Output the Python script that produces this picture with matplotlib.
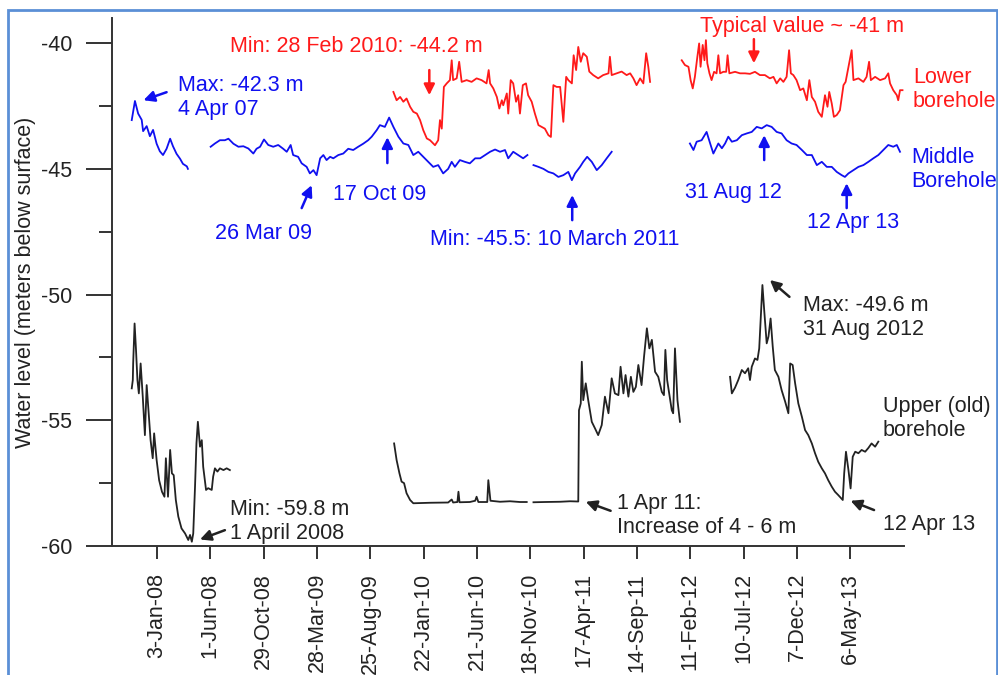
import matplotlib
matplotlib.use("Agg")
import matplotlib.pyplot as plt
import pandas as pd
import numpy as np
from matplotlib.patches import Rectangle

plt.rcParams['font.family'] = ['Liberation Sans', 'DejaVu Sans']
plt.rcParams['axes.unicode_minus'] = False

# ---------------- data: x = days since 2007-10-01, y = water level (m) ----------------
START = pd.Timestamp("2007-10-01")

# Middle borehole (blue)
mid1_days = [23, 32, 41, 51, 55, 65, 74, 83, 93, 102, 111, 121, 131, 139, 149, 159, 167, 178, 181]
mid1_lvl = [-43.06, -42.3, -42.8, -43.05, -43.5, -43.3, -43.7, -43.45, -44.0, -44.3, -44.45, -44.2,
            -43.8, -44.1, -44.4, -44.6, -44.8, -44.9, -45.0]

mid2_days = [245, 257, 271, 285, 295, 309, 323, 337, 351, 365, 374, 384, 395, 407, 421, 435, 449, 459,
             470, 477, 491, 501, 515, 524, 534, 543, 553, 562, 571, 581, 590, 604, 618, 632, 646, 660,
             674, 688, 698, 712, 721, 735, 747, 759, 773, 787, 801, 815, 829, 843, 857, 871, 885, 899,
             913, 923, 932, 946, 960, 974, 989, 1003, 1017, 1031, 1045, 1059, 1073, 1082, 1096, 1110,
             1124, 1136]
mid2_lvl = [-44.12, -43.99, -43.86, -43.86, -43.8, -44.0, -44.12, -44.1, -44.19, -44.39, -44.2, -44.12,
            -43.83, -44.05, -44.12, -44.05, -44.2, -44.32, -44.05, -44.45, -44.52, -44.78, -44.92,
            -45.18, -45.05, -45.25, -44.58, -44.45, -44.65, -44.52, -44.58, -44.45, -44.39, -44.2,
            -44.25, -44.12, -44.0, -43.86, -43.72, -43.46, -43.26, -43.33, -42.96, -43.33, -43.72,
            -43.99, -44.05, -44.45, -44.32, -44.52, -44.72, -44.92, -44.85, -45.18, -45.0, -44.72,
            -44.92, -44.65, -44.72, -44.78, -44.58, -44.58, -44.45, -44.32, -44.23, -44.32, -44.25,
            -44.58, -44.32, -44.45, -44.58, -44.45]

mid3_days = [1153, 1167, 1181, 1195, 1209, 1223, 1237, 1251, 1261, 1270, 1284, 1293, 1304, 1317, 1331,
             1345, 1359, 1373]
mid3_lvl = [-44.85, -44.92, -45.0, -45.12, -45.18, -45.32, -45.25, -45.12, -45.45, -45.18, -44.92,
            -44.72, -44.52, -44.72, -45.05, -44.85, -44.58, -44.32]

mid4_days = [1593, 1603, 1612, 1626, 1640, 1650, 1659, 1673, 1683, 1692, 1701, 1711, 1725, 1739, 1753,
             1767, 1781, 1795, 1809, 1823, 1837, 1851, 1865, 1879, 1893, 1908, 1922, 1936, 1950, 1964,
             1978, 1992, 2006, 2020, 2029, 2039, 2053, 2067, 2081, 2095, 2109, 2123, 2137, 2151, 2165,
             2175, 2184]
mid4_lvl = [-43.99, -44.25, -43.92, -43.86, -43.53, -43.99, -44.39, -43.99, -44.18, -43.99, -43.72,
            -43.92, -43.86, -43.66, -43.59, -43.53, -43.33, -43.39, -43.26, -43.33, -43.53, -43.59,
            -43.86, -43.99, -44.05, -44.25, -44.45, -44.45, -44.85, -44.72, -44.92, -44.92, -45.12,
            -45.25, -45.32, -45.18, -45.05, -44.92, -44.85, -44.72, -44.58, -44.45, -44.25, -44.05,
            -44.12, -44.05, -44.32]

# Lower borehole (red)
low1_days = [759, 768, 778, 787, 796, 806, 815, 825, 834, 843, 853, 862, 876, 885, 890, 895, 901, 909,
             918, 923, 927, 937, 944, 951, 965, 979, 993, 1007, 1021, 1027, 1031, 1040, 1050, 1057,
             1064, 1068, 1078, 1082, 1089, 1096, 1104, 1110, 1115, 1123, 1132, 1138, 1148, 1157, 1167,
             1176, 1185, 1195, 1202, 1209, 1218, 1228, 1237, 1245, 1251, 1261, 1266, 1273, 1279, 1286,
             1293, 1303, 1310, 1321, 1335, 1349, 1364, 1368, 1373, 1387, 1401, 1415, 1425, 1434, 1443,
             1453, 1462, 1470, 1476, 1481]
low1_lvl = [-41.94, -42.27, -42.14, -42.33, -42.2, -42.53, -42.73, -42.8, -43.06, -43.46, -43.79,
            -43.86, -44.06, -43.86, -43.06, -43.4, -41.74, -41.6, -41.47, -40.68, -41.47, -41.4,
            -40.74, -41.54, -41.47, -41.54, -41.4, -41.47, -41.6, -41.07, -41.6, -41.8, -42.14, -42.6,
            -42.27, -42.47, -42.0, -42.8, -41.47, -41.6, -42.33, -42.07, -42.8, -41.67, -41.6, -42.07,
            -42.33, -42.8, -43.26, -43.33, -43.4, -43.66, -43.73, -41.67, -41.74, -41.74, -43.13,
            -41.34, -41.47, -41.6, -40.48, -41.07, -40.15, -40.74, -40.4, -40.54, -41.13, -41.27,
            -41.4, -41.27, -41.2, -40.54, -41.27, -41.2, -41.13, -41.27, -41.2, -41.4, -41.67, -41.4,
            -41.6, -40.4, -40.94, -41.54]

low2_days = [1570, 1579, 1589, 1595, 1601, 1607, 1614, 1619, 1623, 1629, 1634, 1638, 1642, 1648, 1654,
             1661, 1668, 1673, 1678, 1687, 1695, 1699, 1704, 1720, 1734, 1748, 1762, 1776, 1790, 1804,
             1818, 1828, 1837, 1847, 1856, 1865, 1872, 1877, 1884, 1893, 1903, 1912, 1922, 1929, 1936,
             1945, 1954, 1964, 1973, 1980, 1985, 1992, 1998, 2006, 2015, 2025, 2031, 2048, 2053, 2067,
             2081, 2090, 2097, 2102, 2114, 2128, 2142, 2151, 2156, 2165, 2175, 2179, 2184, 2191]
low2_lvl = [-40.68, -40.87, -40.94, -41.47, -41.8, -41.34, -40.54, -40.01, -40.94, -40.07, -40.68,
            -39.88, -40.8, -41.2, -41.47, -41.14, -41.2, -40.48, -41.2, -41.14, -41.14, -40.48, -41.2,
            -41.14, -41.2, -41.2, -41.22, -41.14, -41.27, -41.27, -41.4, -41.34, -41.6, -41.4, -41.54,
            -41.34, -40.28, -41.2, -41.27, -41.47, -41.87, -41.8, -42.27, -41.47, -42.14, -42.33,
            -42.73, -42.93, -42.07, -42.53, -41.94, -42.4, -42.93, -42.86, -42.67, -41.67, -41.54,
            -40.28, -41.47, -41.4, -41.54, -41.34, -40.74, -41.47, -41.34, -41.47, -41.4, -41.2, -41.6,
            -41.87, -42.07, -42.27, -41.87, -41.87]

# Upper (old) borehole (black)
up1_days = [23, 26, 27, 31, 35, 39, 43, 48, 54, 60, 65, 70, 76, 82, 86, 93, 100, 108, 115, 119, 125,
            131, 136, 141, 147, 154, 163, 173, 182, 187, 192, 196, 201, 205, 209, 215, 220, 224, 232,
            238, 248, 252, 257, 264, 271, 281, 290, 299]
up1_lvl = [-53.73, -53.4, -52.74, -51.15, -52.2, -53.4, -53.93, -52.74, -54.06, -55.59, -53.6, -54.59,
           -55.79, -56.51, -55.52, -56.58, -57.38, -57.84, -58.04, -56.51, -58.04, -56.18, -57.11,
           -57.18, -58.17, -58.83, -59.3, -59.5, -59.76, -59.56, -59.83, -59.5, -57.64, -55.92,
           -55.06, -56.05, -55.79, -56.85, -57.77, -57.7, -57.77, -57.24, -56.91, -57.04, -56.91,
           -56.98, -56.91, -56.98]

up2_days = [761, 768, 776, 782, 789, 796, 806, 815, 862, 913, 923, 927, 939, 942, 945, 974, 989, 993,
            998, 1023, 1026, 1032, 1059, 1087, 1115, 1134]
up2_lvl = [-55.92, -56.58, -57.11, -57.44, -57.5, -57.9, -58.17, -58.3, -58.28, -58.27, -58.15, -58.27,
           -58.25, -57.84, -58.26, -58.25, -58.2, -58.04, -58.25, -58.25, -57.38, -58.2, -58.24,
           -58.22, -58.25, -58.25]

up3_days = [1153, 1185, 1228, 1256, 1279, 1281, 1286, 1289, 1293, 1300, 1307, 1317, 1326, 1335, 1345,
            1354, 1364, 1373, 1382, 1392, 1398, 1406, 1412, 1420, 1427, 1434, 1441, 1448, 1457, 1464,
            1472, 1479, 1486, 1495, 1504, 1514, 1520, 1524, 1529, 1542, 1546, 1551, 1558, 1565]
up3_lvl = [-58.26, -58.25, -58.24, -58.22, -58.23, -54.6, -54.33, -52.67, -54.2, -53.53, -54.2, -55.06,
           -55.32, -55.59, -55.19, -54.06, -54.72, -53.33, -53.93, -54.0, -52.87, -53.93, -53.2,
           -54.06, -53.27, -53.87, -53.67, -52.8, -53.6, -52.47, -51.34, -52.14, -51.8, -53.07,
           -53.27, -53.87, -54.0, -52.2, -53.4, -54.6, -54.72, -52.14, -54.2, -55.06]

up4_days = [1706, 1711, 1720, 1729, 1739, 1748, 1757, 1762, 1767, 1776, 1783, 1788, 1792, 1797, 1802,
            1809, 1814, 1820, 1826, 1832, 1842, 1851, 1861, 1870, 1875, 1882, 1889, 1898, 1908, 1917,
            1926, 1936, 1945, 1954, 1964, 1973, 1982, 1992, 2001, 2010, 2023, 2027, 2032, 2039, 2045,
            2051, 2058, 2067, 2076, 2086, 2095, 2104, 2114, 2123]
up4_lvl = [-53.27, -53.93, -53.7, -53.4, -53.0, -53.13, -52.93, -53.4, -52.87, -52.54, -52.6, -52.14,
           -51.01, -49.62, -50.62, -51.94, -51.67, -50.95, -52.07, -53.0, -53.27, -53.8, -54.26,
           -54.72, -52.74, -52.8, -53.53, -54.33, -54.86, -55.39, -55.59, -55.92, -56.31, -56.65,
           -56.91, -57.11, -57.38, -57.64, -57.84, -57.97, -58.17, -57.11, -56.25, -56.98, -57.71,
           -56.45, -56.25, -56.31, -56.18, -56.25, -56.1, -55.92, -56.05, -55.85]

tick_dates = ["2008-01-03", "2008-06-01", "2008-10-29", "2009-03-28", "2009-08-25", "2010-01-22",
              "2010-06-21", "2010-11-18", "2011-04-17", "2011-09-14", "2012-02-11", "2012-07-10",
              "2012-12-07", "2013-05-06"]
tick_labels = ["3-Jan-08", "1-Jun-08", "29-Oct-08", "28-Mar-09", "25-Aug-09", "22-Jan-10",
               "21-Jun-10", "18-Nov-10", "17-Apr-11", "14-Sep-11", "11-Feb-12", "10-Jul-12",
               "7-Dec-12", "6-May-13"]

BLUE = "#1010f0"
RED = "#ff1a1a"
BLACK = "#222222"
AX = "#333333"


def to_dates(days):
    return START + pd.to_timedelta(np.asarray(days, dtype=float), unit="D")


def D(days):
    return START + pd.Timedelta(days=days)


fig = plt.figure(figsize=(9.98, 6.75), dpi=100)
ax = fig.add_axes([0.1122, 0.1911, 0.7936, 0.7822])

for d, v in [(mid1_days, mid1_lvl), (mid2_days, mid2_lvl), (mid3_days, mid3_lvl), (mid4_days, mid4_lvl)]:
    ax.plot(to_dates(d), v, color=BLUE, lw=1.3)
for d, v in [(low1_days, low1_lvl), (low2_days, low2_lvl)]:
    ax.plot(to_dates(d), v, color=RED, lw=1.3)
for d, v in [(up1_days, up1_lvl), (up2_days, up2_lvl), (up3_days, up3_lvl), (up4_days, up4_lvl)]:
    ax.plot(to_dates(d), v, color=BLACK, lw=1.3)

ax.set_xlim(D(-32.6), D(2195.2))
ax.set_ylim(-60, -39.0)

ax.spines['top'].set_visible(False)
ax.spines['right'].set_visible(False)
for s in ['left', 'bottom']:
    ax.spines[s].set_color(AX)
    ax.spines[s].set_linewidth(1.4)

FS = 15.5

ax.set_yticks([-60, -55, -50, -45, -40])
ax.set_yticks([-57.5, -52.5, -47.5, -42.5], minor=True)
ax.tick_params(axis='y', which='major', length=18.7, width=1.4, color=AX, pad=10,
               labelsize=FS, labelcolor=BLACK)
ax.tick_params(axis='y', which='minor', length=9.4, width=1.4, color=AX)

ax.set_xticks(pd.to_datetime(tick_dates))
ax.set_xticklabels(tick_labels, rotation=90)
ax.tick_params(axis='x', which='major', length=9.4, width=1.4, color=AX, pad=10,
               labelsize=FS, labelcolor=BLACK)
ax.tick_params(axis='x', which='minor', length=0)

ax.set_ylabel("Water level (meters below surface)", fontsize=FS, color=BLACK, labelpad=3.5)

arrow_kw = dict(arrowstyle="-|>", lw=1.8, mutation_scale=16, shrinkA=0, shrinkB=0)


def label(xd, yv, text, color):
    # yv is the baseline of the last line of text
    ax.text(D(xd), yv, text, color=color, fontsize=FS, va='baseline', linespacing=1.2,
            clip_on=False)


def arrow(x0, y0, x1, y1, color):
    ax.annotate("", xy=(D(x1), y1), xytext=(D(x0), y0),
                arrowprops=dict(color=color, **arrow_kw))


# blue annotations
label(154, -42.86, "Max: -42.3 m\n4 Apr 07", BLUE)
arrow(121, -41.95, 56, -42.27, BLUE)
label(257, -47.77, "26 Mar 09", BLUE)
arrow(501, -46.56, 529, -45.65, BLUE)
label(589, -46.25, "17 Oct 09", BLUE)
arrow(742, -44.77, 742, -43.74, BLUE)
label(862, -48.03, "Min: -45.5: 10 March 2011", BLUE)
arrow(1262, -47.04, 1262, -46.04, BLUE)
label(1579, -46.15, "31 Aug 12", BLUE)
arrow(1802, -44.65, 1802, -43.66, BLUE)
label(1921, -47.36, "12 Apr 13", BLUE)
arrow(2034, -46.56, 2034, -45.57, BLUE)
label(2217, -45.73, "Middle\nBorehole", BLUE)

# red annotations
label(299, -40.35, "Min: 28 Feb 2010: -44.2 m", RED)
arrow(860, -41.07, 860, -42.07, RED)
label(1621, -39.55, "Typical value ~ -41 m", RED)
arrow(1773, -39.84, 1773, -40.8, RED)
label(2220, -42.54, "Lower\nborehole", RED)

# black annotations
label(1911, -51.61, "Max: -49.6 m\n31 Aug 2012", BLACK)
arrow(1873, -50.09, 1818, -49.42, BLACK)
label(2135, -55.63, "Upper (old)\nborehole", BLACK)
label(2137, -59.36, "12 Apr 13", BLACK)
arrow(2111, -58.57, 2045, -58.2, BLACK)
label(1387, -59.49, "1 Apr 11:\nIncrease of 4 - 6 m", BLACK)
arrow(1370, -58.6, 1300, -58.24, BLACK)
label(299, -59.72, "Min: -59.8 m\n1 April 2008", BLACK)
arrow(285, -59.37, 215, -59.74, BLACK)

# light blue frame around the figure
fig.patches.append(Rectangle((8 / 998, -0.05), 989 / 998, 1.05 - 10 / 675, transform=fig.transFigure,
                             fill=False, edgecolor="#5b8fd6", lw=2.0))

fig.savefig("out.png", dpi=100)
